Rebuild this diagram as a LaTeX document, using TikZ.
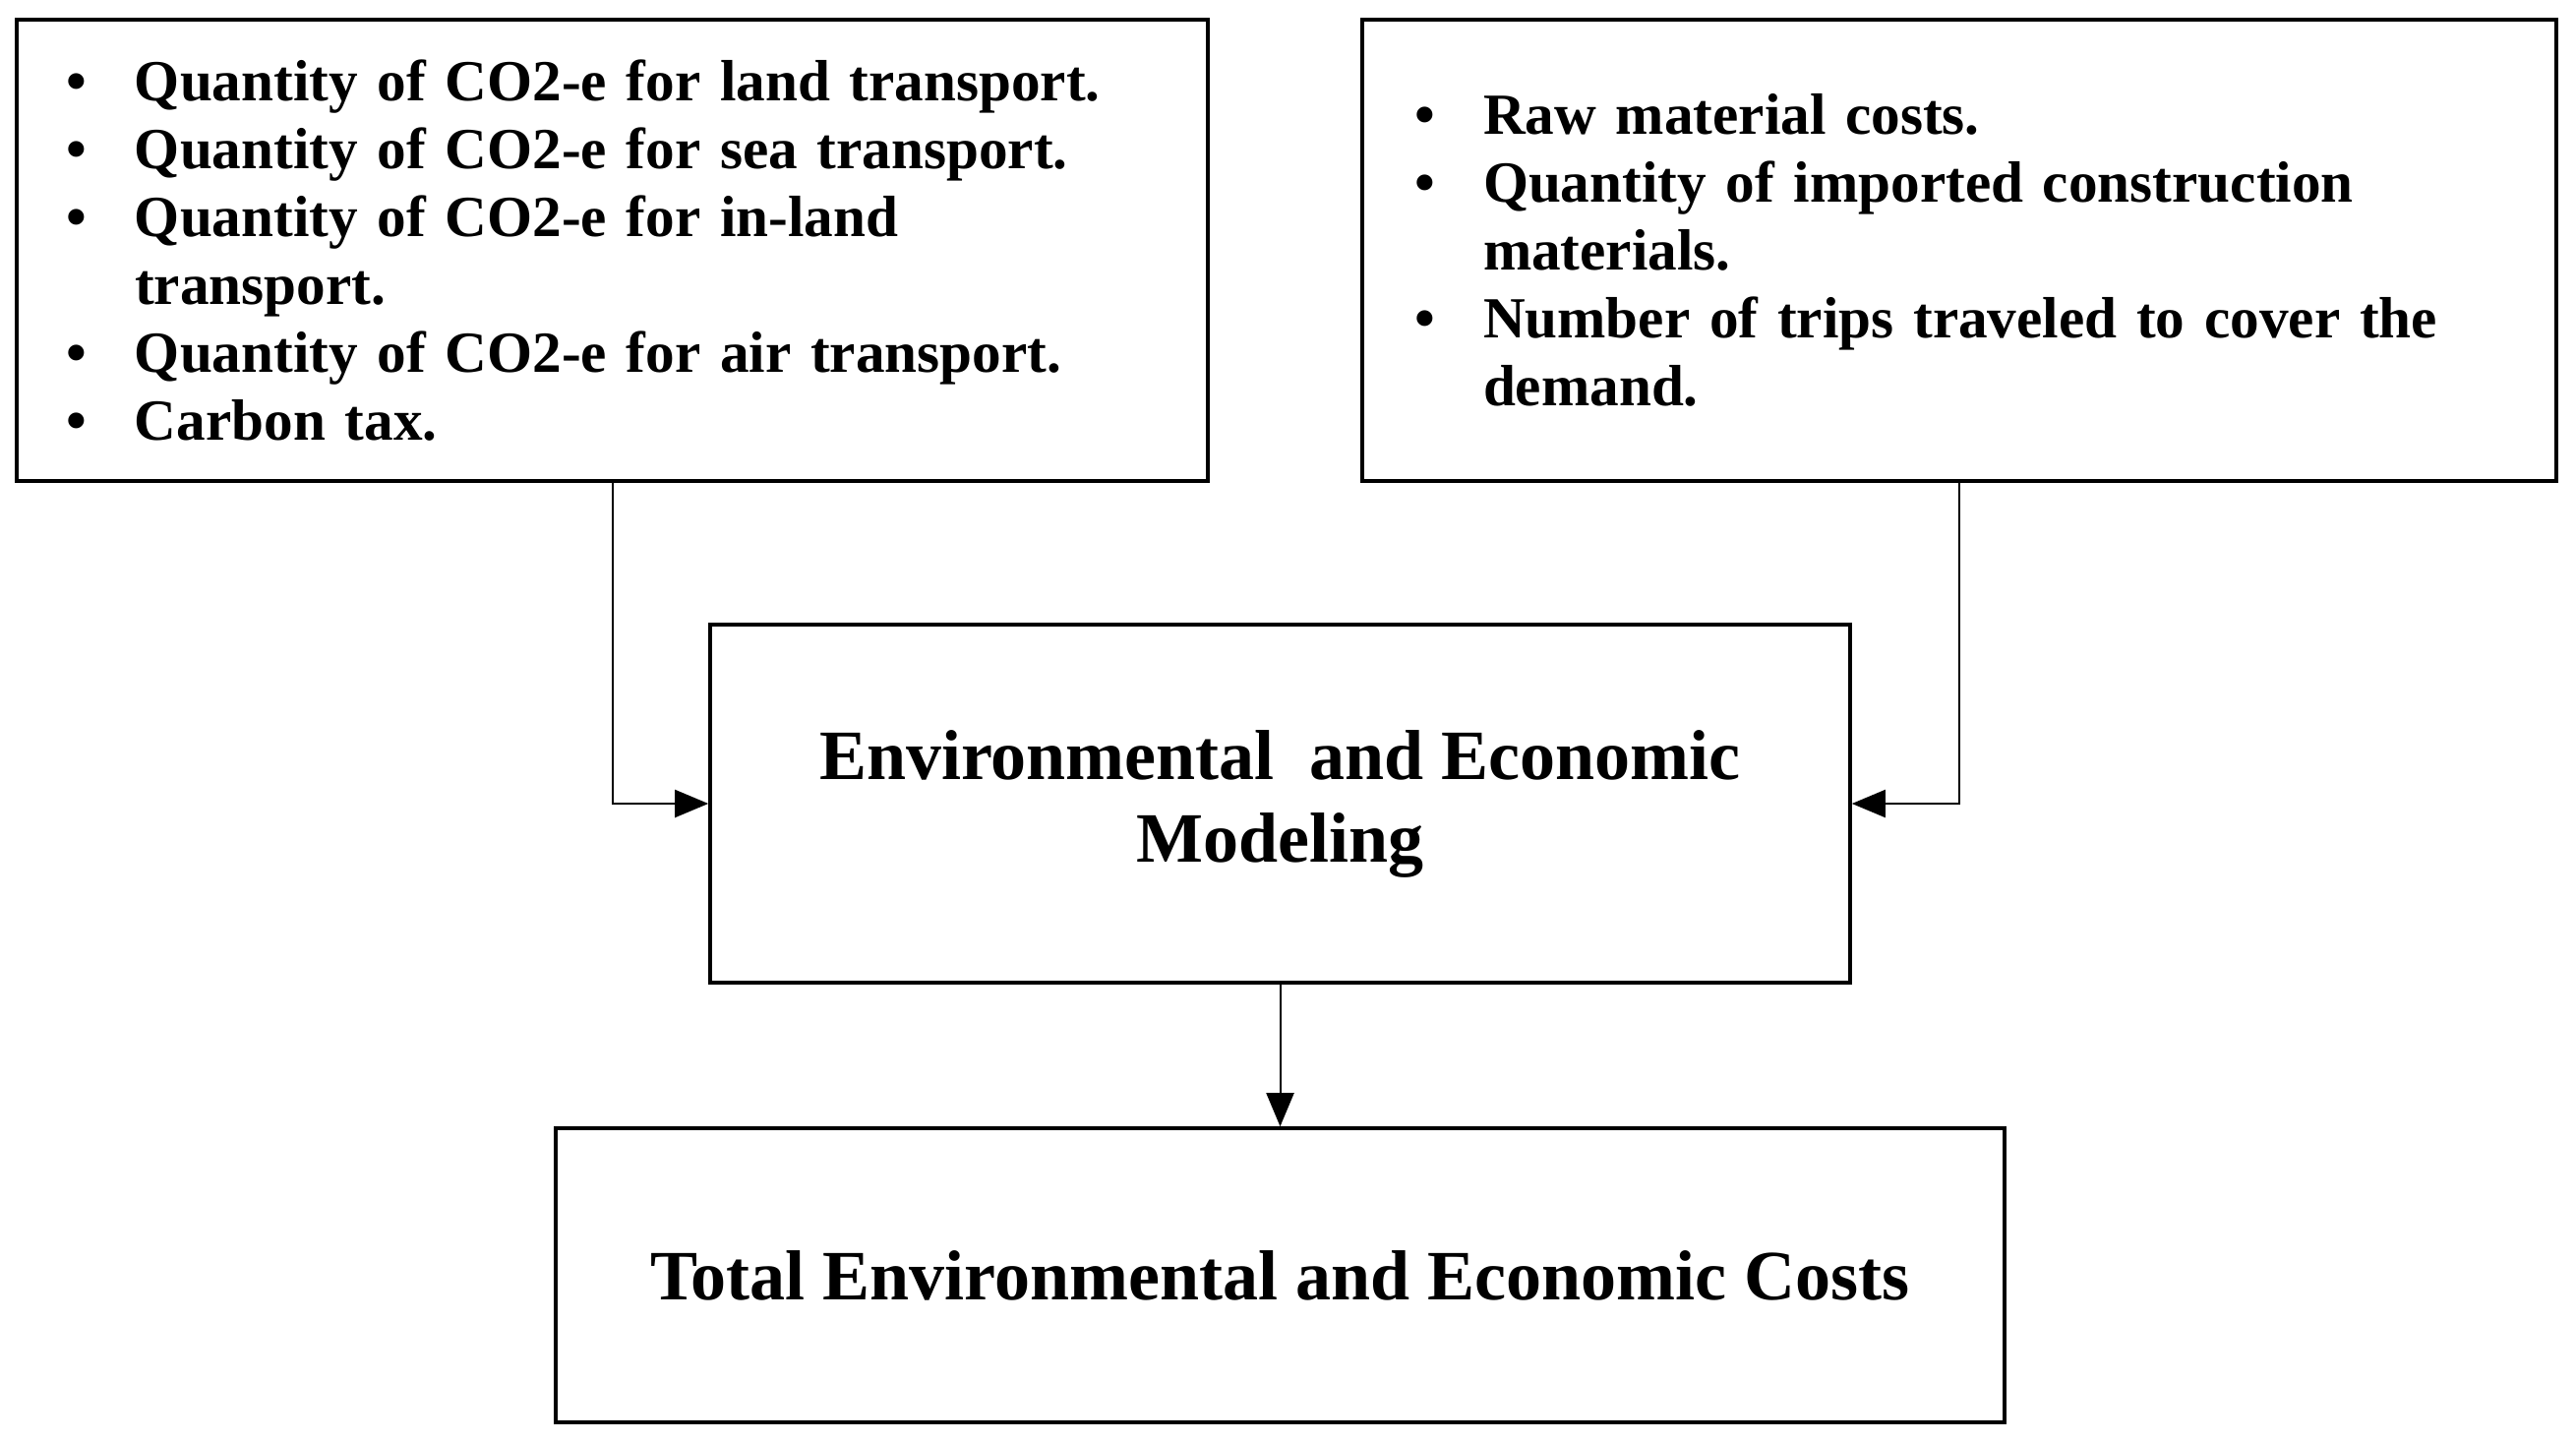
\documentclass[tikz,border=0pt]{standalone}
\usepackage{fontspec}
\setmainfont{Liberation Serif}
\usetikzlibrary{arrows.meta}

\newcommand{\itm}[1]{\makebox[17.5pt][l]{\textbullet}#1}
\newcommand{\cnt}[1]{\hspace*{17.5pt}#1}

\tikzset{
  listbox/.style={draw,line width=0.9pt,align=left,inner ysep=0pt,
    minimum height=117.25pt,font=\fontsize{14.8}{17.25}\selectfont\bfseries},
  mainbox/.style={draw,line width=0.9pt,align=center,inner sep=0pt,
    font=\fontsize{18}{21}\selectfont\bfseries},
  link/.style={line width=0.5pt,-{Triangle[length=8.5pt,width=7pt]}}
}

\begin{document}
\begin{tikzpicture}[x=0.25pt,y=-0.25pt]
\useasboundingbox (0,0) rectangle (2619,1465);

\node[listbox,text width=277.75pt,inner xsep=12.5pt] (co2) at (622.5,254.5)
  {\itm{Quantity of CO2-e for land transport.}\\
   \itm{Quantity of CO2-e for sea transport.}\\
   \itm{Quantity of CO2-e for in-land}\\
   \cnt{transport.}\\
   \itm{Quantity of CO2-e for air transport.}\\
   \itm{Carbon tax.}};
\node[listbox,text width=277pt,inner xsep=13.25pt] (cost) at (1992,254.5)
  {\itm{Raw material costs.}\\
   \itm{Quantity of imported construction}\\
   \cnt{materials.}\\
   \itm{Number of trips traveled to cover the}\\
   \cnt{demand.}};

\node[mainbox,minimum width=289.75pt,minimum height=91pt] (model) at (1301.5,817)
  {Environmental \ and Economic\\ Modeling};
\node[mainbox,minimum width=368.25pt,minimum height=74.75pt] (total) at (1301.5,1296.5)
  {Total Environmental and Economic Costs};

\draw[link] (co2.south) |- (model.west);
\draw[link] (cost.south) |- (model.east);
\draw[link] (model.south) -- (total.north);
\end{tikzpicture}
\end{document}
